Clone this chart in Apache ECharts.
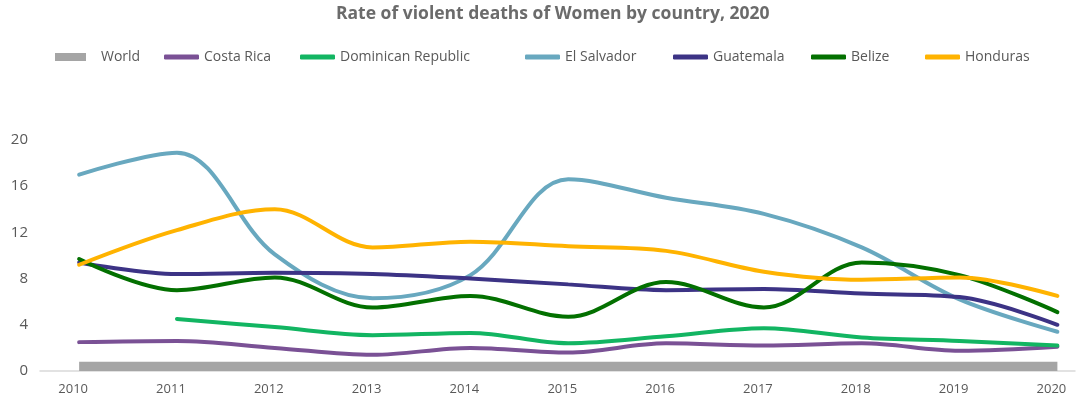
<!DOCTYPE html>
<html>
<head>
<meta charset="utf-8">
<script src="https://cdn.jsdelivr.net/npm/echarts@6/dist/echarts.min.js"></script>
<style>
html,body{margin:0;padding:0;background:#fff;}
#c{width:1076px;height:402px;}
</style>
</head>
<body>
<div id="c"></div>
<script>
const years = [2010, 2011, 2012, 2013, 2014, 2015, 2016, 2017, 2018, 2019, 2020];
const world = [0.8, 0.8, 0.8, 0.8, 0.8, 0.8, 0.8, 0.8, 0.8, 0.8, 0.8];
const costaRica = [2.5, 2.6, 2.0, 1.4, 2.0, 1.6, 2.4, 2.2, 2.4, 1.75, 2.1];
const dominicanRepublic = [null, 4.5, 3.8, 3.1, 3.3, 2.4, 3.0, 3.7, 2.9, 2.6, 2.2];
const elSalvador = [17.0, 18.9, 10.1, 6.3, 8.3, 16.6, 15.0, 13.6, 10.7, 6.2, 3.4];
const guatemala = [9.4, 8.4, 8.5, 8.4, 8.0, 7.5, 7.0, 7.1, 6.7, 6.4, 4.0];
const belize = [9.7, 7.0, 8.1, 5.5, 6.5, 4.7, 7.7, 5.5, 9.4, 8.3, 5.1];
const honduras = [9.2, 12.2, 14.0, 10.7, 11.2, 10.8, 10.4, 8.6, 7.9, 8.1, 6.5];
const yTicks = [0, 4, 8, 12, 16, 20];

const names = ['World', 'Costa Rica', 'Dominican Republic', 'El Salvador', 'Guatemala', 'Belize', 'Honduras'];
const values = [world, costaRica, dominicanRepublic, elSalvador, guatemala, belize, honduras];
const colors = ['#a5a5a5', '#7a5195', '#12b562', '#68a8bf', '#3c3385', '#037000', '#ffb300'];

function pairs(arr) {
  const out = [];
  arr.forEach((v, i) => { if (v !== null) out.push([years[i], v]); });
  return out;
}

const series = names.map((n, i) => {
  if (i === 0) {
    return {
      name: n, type: 'line', data: pairs(values[i]), symbol: 'none',
      lineStyle: { width: 0 }, itemStyle: { color: colors[i] },
      areaStyle: { color: colors[i], opacity: 1 }, z: 1
    };
  }
  return {
    name: n, type: 'line', data: pairs(values[i]), symbol: 'none', smooth: 0.35,
    lineStyle: { width: 4, color: colors[i], cap: 'round' },
    itemStyle: { color: colors[i] }, z: 2 + i
  };
});

const legendLefts = [50, 159, 295, 520, 668, 806, 920];
const legends = names.map((n, i) => ({
  data: [n], left: legendLefts[i], top: 45,
  icon: i === 0 ? 'rect' : 'roundRect',
  itemWidth: i === 0 ? 31 : 35, itemHeight: i === 0 ? 8 : 5,
  itemGap: 0,
  textStyle: { color: '#595959', fontSize: 14, fontFamily: 'Open Sans', padding: [0, 0, 0, i === 0 ? 10 : 0] },
  selectedMode: false
}));

const chart = echarts.init(document.getElementById('c'));
chart.setOption({
  animation: false,
  backgroundColor: '#ffffff',
  title: {
    text: 'Rate of violent deaths of Women by country, 2020',
    left: 331, top: 0,
    textStyle: { color: '#6b6b6b', fontSize: 17.5, fontWeight: 'bold', fontFamily: 'Open Sans' }
  },
  legend: legends,
  grid: { left: 40, right: 1, top: 140, bottom: 31 },
  xAxis: {
    type: 'value', min: 2009.6, max: 2020.18,
    axisLine: { show: true, lineStyle: { color: '#d9d9d9', width: 1.5 } },
    axisTick: { show: false },
    splitLine: { show: false },
    axisLabel: {
      customValues: years, color: '#595959', fontSize: 13, fontFamily: 'Open Sans',
      margin: 12, padding: [0, 12, 0, 0],
      formatter: v => String(v)
    }
  },
  yAxis: {
    type: 'value', min: 0, max: 20, interval: 4,
    axisLine: { show: false }, axisTick: { show: false }, splitLine: { show: false },
    axisLabel: { customValues: yTicks, color: '#595959', fontSize: 15, fontFamily: 'Open Sans', margin: 12 }
  },
  series: series
});
</script>
</body>
</html>
